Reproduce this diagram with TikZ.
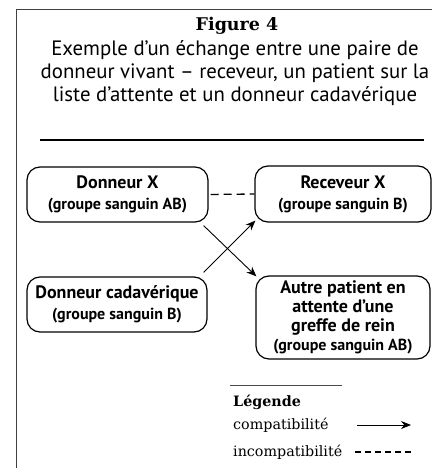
\documentclass[tikz,border=0pt]{standalone}
\usepackage{fontspec}
\setmainfont{DejaVu Serif}
\setsansfont{PT Sans}
\usetikzlibrary{arrows.meta}
\begin{document}
\begin{tikzpicture}[x=1pt,y=-1pt,
  box/.style={draw, line width=1.2pt, rounded corners=13pt, align=center,
    font=\sffamily\bfseries\fontsize{18}{19}\selectfont, inner sep=0pt},
  compat/.style={line width=0.9pt, -{Stealth[length=10pt,width=8pt]}},
  incompat/.style={line width=1.3pt, dash pattern=on 6pt off 4pt},
  ttl/.style={font=\sffamily\fontsize{20.8}{23}\selectfont, align=center},
  leg/.style={font=\fontsize{14.3}{16}\selectfont, anchor=west, inner sep=0pt}]
\useasboundingbox (0,0) rectangle (432,468);
% frame (top and left)
\draw[line width=1pt, black!75] (16,468) -- (16,10) -- (432,10);
% titles
\node[font=\bfseries\fontsize{17.5}{20}\selectfont, inner sep=0pt] (fig) at (237,26) {Figure 4};
\node[ttl, inner sep=0pt] (title) at (235,73) {Exemple d’un échange entre une paire de\\donneur vivant – receveur, un patient sur la\\liste d’attente et un donneur cadavérique};
\draw[line width=1.1pt] (40,140) -- (424,140);
% boxes
\node[box, minimum width=181pt, minimum height=55pt] (dx) at (117.5,194.5) {Donneur X\\[2pt]{\fontsize{16}{17}\selectfont(groupe sanguin AB)}};
\node[box, minimum width=176pt, minimum height=56pt] (rx) at (343,194) {Receveur X\\[2pt]{\fontsize{16}{17}\selectfont(groupe sanguin B)}};
\node[box, minimum width=180pt, minimum height=55pt] (dc) at (117,304.5) {Donneur cadavérique\\[2pt]{\fontsize{16}{17}\selectfont(groupe sanguin B)}};
\node[box, minimum width=174pt, minimum height=83pt] (ap) at (343,317.5) {Autre patient en\\attente d’une\\greffe de rein\\{\fontsize{16}{17}\selectfont(groupe sanguin AB)}};
% connectors
\draw[incompat, dash pattern=on 8pt off 5pt, dash phase=-2pt] (dx.east) -- (rx.west);
\draw[compat] ([xshift=-5pt,yshift=-3pt]dx.south east) -- ([xshift=1pt,yshift=-1pt]ap.north west);
\draw[compat] ([xshift=-4pt,yshift=4pt]dc.north east) -- ([xshift=1pt,yshift=2pt]rx.south west);
% legend
\draw[line width=0.8pt, black!70] (230,385) -- (342,385);
\node[leg, font=\bfseries\fontsize{14.3}{16}\selectfont] (lg) at (233,402) {Légende};
\node[leg] (lc) at (233,425) {compatibilité};
\node[leg] (li) at (233,452) {incompatibilité};
\coordinate (ca) at (357,425);
\coordinate (cb) at (411,425);
\coordinate (ia) at (355,452);
\coordinate (ib) at (411,452);
\draw[compat] (ca) -- (cb);
\draw[incompat] (ia) -- (ib);
\end{tikzpicture}
\end{document}
